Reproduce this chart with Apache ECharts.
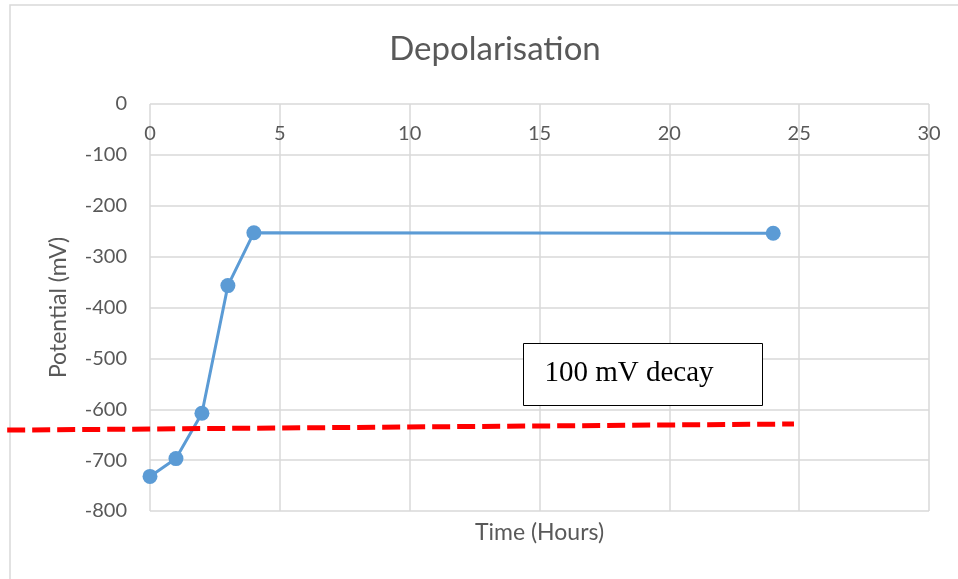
<!DOCTYPE html>
<html>
<head>
<meta charset="utf-8">
<script src="https://cdn.jsdelivr.net/npm/echarts@6/dist/echarts.min.js"></script>
<style>
  html, body { margin: 0; padding: 0; background: #fff; }
  #depolChart { width: 958px; height: 579px; }
</style>
</head>
<body>
<div id="depolChart"></div>
<script>
  // measured data
  const hours = [0, 1, 2, 3, 4, 24]
  const potential = [-732, -697, -608, -357, -253, -254]
  // 100 mV decay reference line (hand drawn in the original, runs past the plot on the left)
  const decayHours = [-5.5, 24.8]
  const decayPotential = [-641, -629]
  const decayLabel = '100 mV decay'

  const textColor = '#595959'
  const gridColor = '#d9d9d9'
  const font = 'Lato'

  let chart = echarts.init(document.getElementById('depolChart'))
  chart.setOption({
    animation: false,
    textStyle: { fontFamily: font },
    title: {
      text: 'Depolarisation',
      left: 490,
      top: 28,
      textAlign: 'center',
      textStyle: { color: textColor, fontSize: 33, fontWeight: 'normal', fontFamily: font }
    },
    grid: { left: 150, right: 29, top: 104, bottom: 68 },
    xAxis: [{
      type: 'value',
      position: 'top',
      min: 0,
      max: 30,
      interval: 5,
      axisLine: { show: false },
      axisTick: { show: false },
      axisLabel: { inside: true, margin: 20, color: textColor, fontSize: 20 },
      splitLine: { lineStyle: { color: gridColor, width: 1.5 } }
    }, {
      // bottom axis only carries the name
      type: 'value',
      position: 'bottom',
      min: 0,
      max: 30,
      interval: 5,
      name: 'Time (Hours)',
      nameLocation: 'middle',
      nameGap: 10,
      nameTextStyle: { color: textColor, fontSize: 23 },
      axisLine: { show: false },
      axisTick: { show: false },
      axisLabel: { show: false },
      splitLine: { show: false }
    }],
    yAxis: {
      type: 'value',
      min: -800,
      max: 0,
      interval: 100,
      name: 'Potential (mV)',
      nameLocation: 'middle',
      nameRotate: 90,
      nameGap: 80,
      nameTextStyle: { color: textColor, fontSize: 23 },
      axisLine: { show: false },
      axisTick: { show: false },
      axisLabel: { margin: 23, color: textColor, fontSize: 20 },
      splitLine: { lineStyle: { color: gridColor, width: 1.5 } }
    },
    series: [{
      type: 'line',
      data: hours.map((h, i) => [h, potential[i]]),
      symbol: 'circle',
      symbolSize: 15,
      lineStyle: { color: '#5b9bd5', width: 3 },
      itemStyle: { color: '#5b9bd5' },
      z: 3
    }]
  })

  // the decay line leaves the plot area, so map it through the axes and draw it as a graphic
  let decayPts = decayHours.map((h, i) =>
    chart.convertToPixel({ xAxisIndex: 0, yAxisIndex: 0 }, [h, decayPotential[i]]))

  chart.setOption({
    graphic: [{
      // outer chart border
      type: 'rect',
      shape: { x: 10, y: 5, width: 1000, height: 700 },
      style: { fill: null, stroke: gridColor, lineWidth: 1.5 },
      silent: true
    }, {
      type: 'polyline',
      shape: { points: decayPts },
      style: { stroke: '#ff0000', lineWidth: 5, lineDash: [18, 7], fill: null },
      z: 100
    }, {
      type: 'group',
      left: 523,
      top: 343,
      children: [{
        type: 'rect',
        shape: { x: 0, y: 0, width: 239, height: 62 },
        style: { fill: '#fff', stroke: '#000', lineWidth: 1 }
      }, {
        type: 'text',
        x: 21,
        y: 30,
        style: {
          text: decayLabel,
          fill: '#000',
          font: '29px "Liberation Serif"',
          verticalAlign: 'middle'
        }
      }]
    }]
  })
</script>
</body>
</html>
